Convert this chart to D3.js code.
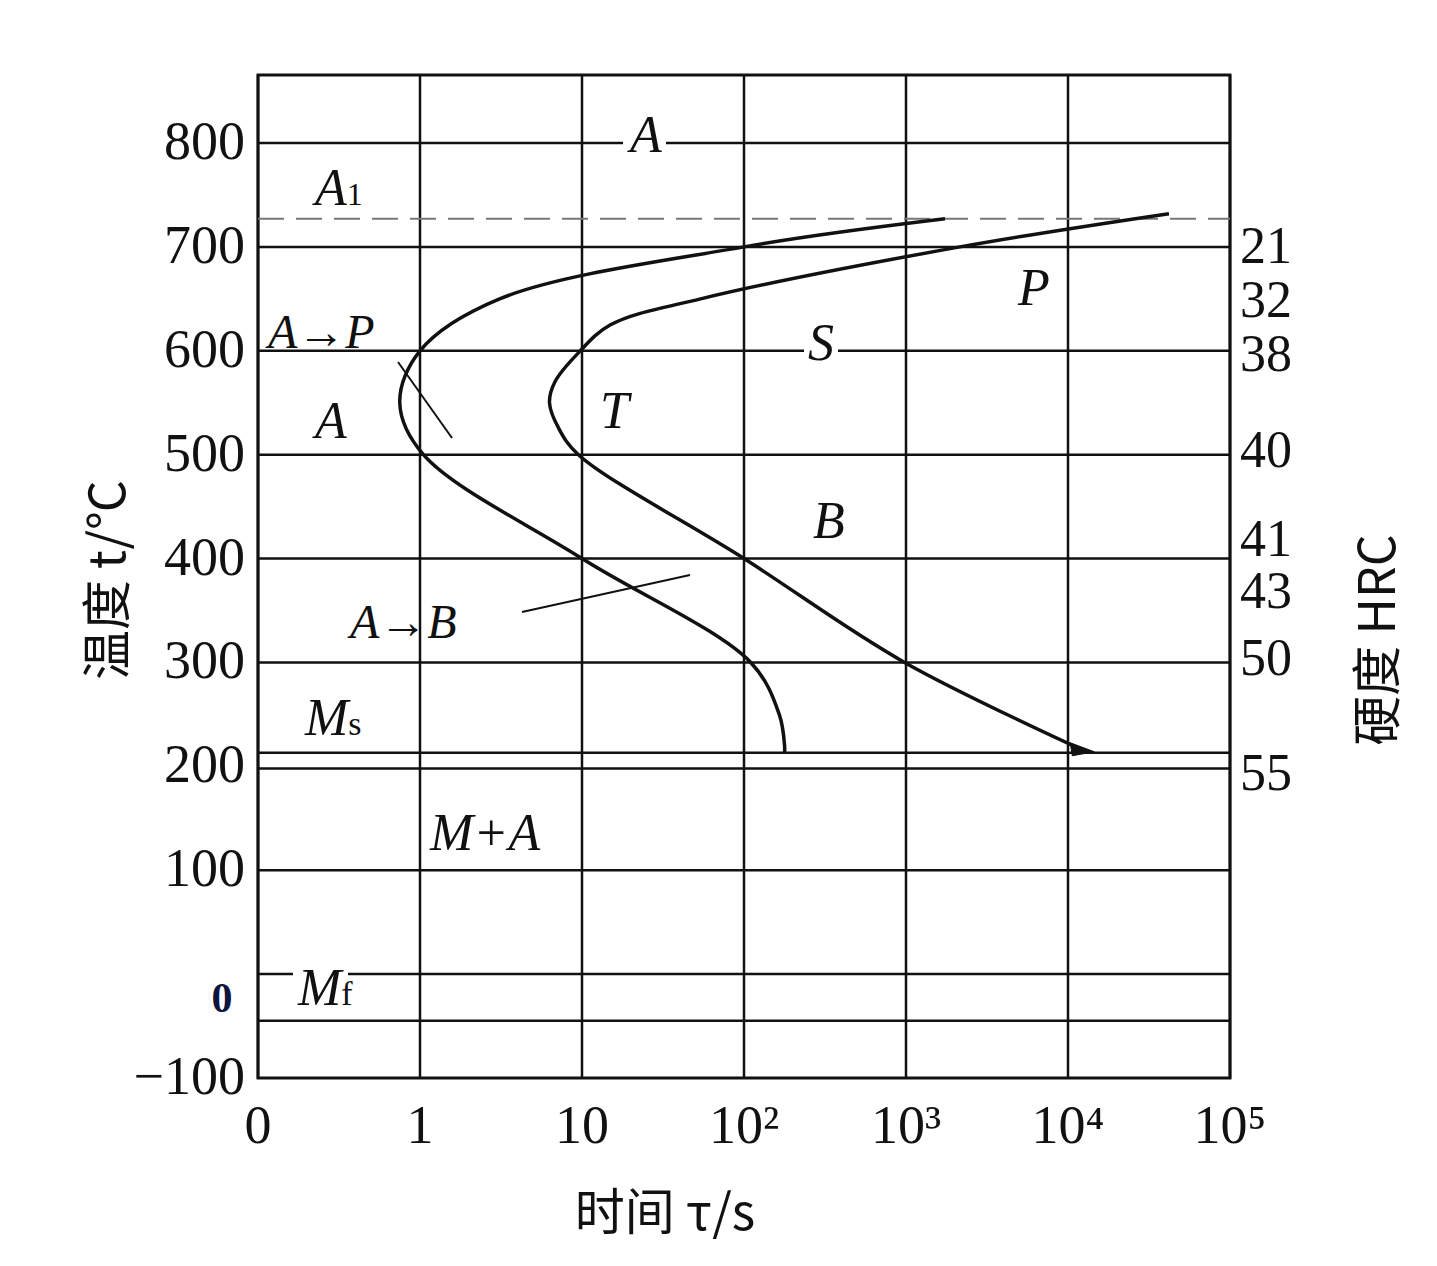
<!DOCTYPE html>
<html><head><meta charset="utf-8">
<script src="https://cdn.jsdelivr.net/npm/d3@7"></script>
<style>body{margin:0;background:#fff}</style></head>
<body><svg id="c" width="1437" height="1266"></svg>
<script>
// data
const xTickVals = [0.1, 1, 10, 100, 1000, 10000, 100000];
const xTickLabels = ["0", "1", "10", "10²", "10³", "10⁴", "10⁵"];
const yTickVals = [800, 700, 600, 500, 400, 300, 200, 100, 0, -100];
const hrcTemps = [702, 650, 598, 505, 420, 370, 305, 195];
const hrcLabels = ["21", "32", "38", "40", "41", "43", "50", "55"];
const hLines = [800, 700, 600, 500, 400, 300, 198, 100, 0, -45];
const A1 = 727, Ms = 213;
const startCurve = [[1740,727],[100,700],[3.1,650],[1.0,600],[0.75,550],[1.05,500],[10,400],[110,300],[165,250],[178,220],[178,213]];
const finishCurve = [[42000,732],[2150,700],[54,650],[15,625],[9.5,598],[6.8,570],[6.3,550],[7.2,525],[9.5,500],[100,400],[980,300],[12600,215]];

const svg = d3.select("#c");
const x0 = 258, dec = 162;
const x = d3.scaleLog().domain([0.1, 100000]).range([x0, x0 + 6*dec]);
const y = d3.scaleLinear().domain([800, -100]).range([143, 1078]);
const pTop = 75, pBot = y(-100), pLeft = x(0.1), pRight = x(100000);
const serif = "Liberation Serif, serif";
const g = svg.append("g").attr("stroke", "#111").attr("fill", "none");

g.append("rect").attr("x", pLeft).attr("y", pTop).attr("width", pRight-pLeft).attr("height", pBot-pTop).attr("stroke-width", 3);
xTickVals.forEach(v => g.append("line").attr("x1", x(v)).attr("x2", x(v)).attr("y1", pTop).attr("y2", pBot).attr("stroke-width", 2.5));
hLines.forEach(v => g.append("line").attr("x1", pLeft).attr("x2", pRight).attr("y1", y(v)).attr("y2", y(v)).attr("stroke-width", 2.5));
g.append("line").attr("x1", pLeft).attr("x2", pRight).attr("y1", y(Ms)).attr("y2", y(Ms)).attr("stroke-width", 2.5);
g.append("line").attr("x1", pLeft).attr("x2", pRight).attr("y1", y(A1)).attr("y2", y(A1)).attr("stroke-width", 2).attr("stroke", "#777").attr("stroke-dasharray", "26,12");

const line = d3.line().x(d => x(d[0])).y(d => y(d[1])).curve(d3.curveCatmullRom.alpha(0.5));
g.append("path").attr("d", line(startCurve)).attr("stroke-width", 3.5);
g.append("path").attr("d", line(finishCurve)).attr("stroke-width", 3.5);
const fe = finishCurve[finishCurve.length-1];
g.append("path").attr("d", `M${x(fe[0])-14},${y(fe[1])-8}L${x(fe[0])+10},${y(fe[1])+1}L${x(fe[0])-12},${y(fe[1])+5}Z`).attr("fill", "#111");
g.append("line").attr("x1", 398).attr("y1", 362).attr("x2", 452).attr("y2", 438).attr("stroke-width", 2);
g.append("line").attr("x1", 522).attr("y1", 612).attr("x2", 690).attr("y2", 575).attr("stroke-width", 2);

const T = (t, px, py, opts={}) => {
  const s = svg.append("text").attr("x", px).attr("y", py).attr("font-family", serif)
    .attr("font-size", opts.size || 52).attr("fill", opts.fill || "#111")
    .attr("text-anchor", opts.anchor || "start").attr("font-style", opts.italic ? "italic" : "normal")
    .attr("font-weight", opts.bold ? "bold" : "normal").text(t);
  if (opts.bg) {
    const b = s.node().getBBox();
    svg.insert("rect", () => s.node()).attr("x", b.x-4).attr("y", b.y+6).attr("width", b.width+8).attr("height", b.height-14).attr("fill", "#fff");
  }
  return s;
};
yTickVals.forEach(v => { if (v !== 0) T(v < 0 ? "−100" : String(v), 245, y(v)+16, {anchor: "end", size: 54}); });
T("0", 222, y(0)+38, {anchor: "middle", size: 42, bold: true, fill: "#0d1440"});
xTickVals.forEach((v, i) => T(xTickLabels[i], x(v), 1143, {anchor: "middle", size: 54}));
hrcTemps.forEach((v, i) => T(hrcLabels[i], 1240, y(v)+18, {size: 52}));

T("时间 τ/s", 665, 1230, {anchor: "middle", size: 50}).attr("font-family", "Noto Sans CJK SC, serif");
svg.append("text").attr("transform", "translate(125,580) rotate(-90)").attr("text-anchor", "middle")
  .attr("font-family", "Noto Sans CJK SC, serif").attr("font-size", 50).attr("fill", "#111").text("温度 t/℃");
svg.append("text").attr("transform", "translate(1395,640) rotate(-90)").attr("text-anchor", "middle")
  .attr("font-family", "Noto Sans CJK SC, serif").attr("font-size", 50).attr("fill", "#111").text("硬度 HRC");

T("A", 630, 152, {italic: true, bg: true});
const a1 = T("A", 315, 205, {italic: true}); a1.append("tspan").attr("font-size", 32).attr("font-style", "normal").text("1");
T("A→P", 268, 348, {italic: true, size: 48});
T("A", 315, 438, {italic: true});
T("T", 600, 428, {italic: true});
T("S", 808, 360, {italic: true, bg: true});
T("P", 1018, 305, {italic: true});
T("B", 813, 538, {italic: true});
T("A→B", 350, 638, {italic: true, size: 48});
const ms = T("M", 305, 735, {italic: true}); ms.append("tspan").attr("font-size", 34).attr("font-style", "normal").text("s");
T("M+A", 430, 850, {italic: true});
const mf = T("M", 298, 1005, {italic: true, bg: true}); mf.append("tspan").attr("font-size", 34).attr("font-style", "normal").text("f");
</script></body></html>
